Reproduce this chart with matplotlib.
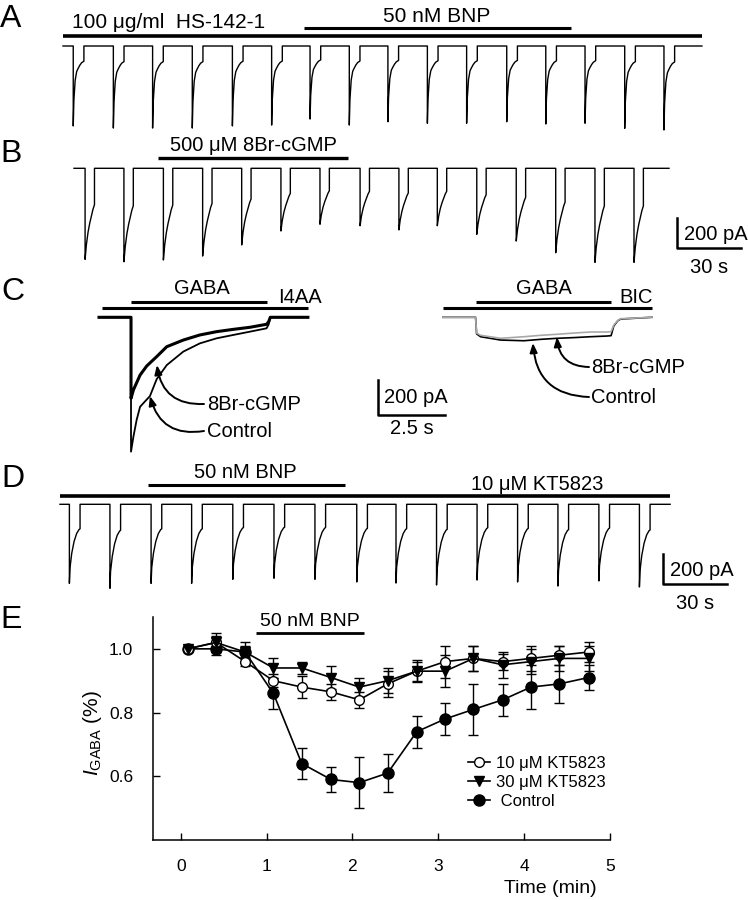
import matplotlib
matplotlib.use('Agg')
import matplotlib.pyplot as plt
from matplotlib.lines import Line2D

plt.rcParams['font.family'] = ['Liberation Sans', 'DejaVu Sans']
plt.rcParams['mathtext.fontset'] = 'custom'
plt.rcParams['mathtext.rm'] = 'Liberation Sans'
plt.rcParams['mathtext.it'] = 'Liberation Sans:italic'

W, H = 748, 900

# ------------------------------------------------------------------ data
# Panel A: GABA sweeps (onset time s, peak amplitude pA)
a_onsets = [4.8, 23.6, 42.0, 60.6, 79.4, 97.8, 115.8, 134.2, 152.3, 170.8,
            189.2, 208.0, 226.3, 244.7, 263.3, 281.7]
a_amps = [533, 547, 547, 547, 533, 527, 487, 527, 505, 515, 515, 505, 520,
          515, 549, 560]
a_end = 299.5
a_hs_bar = [0.0, 299.5]
a_bnp_bar = [113.0, 238.1]
# normalised sweep shape (time after onset s, fraction of peak)
a_prof_t = [0, 0.3, 0.9, 1.6, 2.3, 3.1, 3.9, 5.0]
a_prof_f = [1.0, 0.68, 0.43, 0.32, 0.28, 0.24, 0.21, 0.19]

# Panel B
b_onsets = [5.2, 23.4, 41.9, 60.3, 78.6, 97.0, 115.3, 134.1, 152.3, 170.3,
            188.8, 207.3, 225.8, 244.2, 262.5]
b_amps = [607, 623, 611, 585, 511, 418, 373, 383, 411, 383, 440, 485, 563,
          627, 627]
b_end = 278.9
b_cgmp_bar = [39.4, 128.4]
b_prof_t = [0, 0.6, 1.4, 2.2, 3.0, 3.7, 4.4]
b_prof_f = [1.0, 0.84, 0.70, 0.60, 0.52, 0.45, 0.40]

# Panel C (time s, current pA)
c_ctrl_t = [0, 1.20, 1.20, 1.29, 1.41, 1.54, 1.91, 2.16, 2.54, 3.16, 3.78,
            4.41, 5.03, 5.66, 6.28, 6.36, 6.42, 7.83]
c_ctrl_i = [0, 0, -768, -682, -587, -511, -450, -354, -273, -196, -149,
            -120, -101, -82, -63, -40, 0, 0]
c_br_t = [0, 1.20, 1.20, 1.29, 1.54, 1.79, 2.16, 2.54, 3.16, 3.78, 4.41,
          5.03, 5.66, 6.28, 6.36, 6.42, 7.83]
c_br_i = [0, 0, -463, -415, -330, -278, -225, -168, -130, -101, -82, -69,
          -57, -40, -25, 0, 0]
c_gaba_bar = [1.20, 6.30]
c_i4aa_bar = [0.11, 7.83]
cr_ctrl_t = [0, 1.22, 1.26, 1.41, 2.16, 3.03, 3.66, 4.28, 4.91, 5.53, 6.15,
             6.30, 6.40, 6.55, 6.66, 7.83]
cr_ctrl_i = [0, 0, -95, -111, -130, -134, -126, -120, -116, -111, -107,
             -105, -50, -20, -10, 0]
cr_br_t = [0, 1.22, 1.26, 1.41, 2.16, 3.03, 3.66, 4.28, 4.91, 5.53, 6.15,
           6.30, 6.40, 6.55, 6.66, 7.83]
cr_br_i = [0, 0, -90, -103, -120, -111, -103, -97, -90, -84, -84, -82,
           -45, -18, -8, 0]
cr_gaba_bar = [1.22, 6.30]
cr_bic_bar = [0.0, 7.83]

# Panel D
d_onsets = [4.4, 23.4, 42.7, 61.7, 81.0, 100.3, 119.5, 139.1, 157.5, 176.5,
            195.5, 214.5, 233.4, 252.6, 271.6]
d_amps = [527, 560, 527, 527, 500, 493, 500, 518, 525, 538, 505, 518, 545,
          511, 551]
d_end = 286.0
d_kt_bar = [0.0, 286.0]
d_bnp_bar = [41.3, 133.6]
d_prof_t = [0, 0.3, 1.1, 2.2, 3.4, 4.5, 5.0]
d_prof_f = [1.0, 0.80, 0.62, 0.47, 0.37, 0.32, 0.31]

# Panel E
time_min = [0.08, 0.41, 0.75, 1.08, 1.41, 1.75, 2.08, 2.41, 2.75, 3.08, 3.41,
            3.75, 4.08, 4.41, 4.75]
kt10 = [1.00, 1.02, 0.96, 0.90, 0.88, 0.865, 0.84, 0.89, 0.93, 0.96, 0.97,
        0.96, 0.97, 0.98, 0.99]
kt10_err = [0.0, 0.02, 0.015, 0.02, 0.035, 0.025, 0.025, 0.04, 0.03, 0.05,
            0.04, 0.025, 0.04, 0.03, 0.03]
kt30 = [1.00, 1.02, 0.99, 0.94, 0.94, 0.91, 0.88, 0.90, 0.93, 0.93, 0.97,
        0.95, 0.96, 0.97, 0.97]
kt30_err = [0.0, 0.03, 0.03, 0.03, 0.02, 0.035, 0.03, 0.04, 0.035, 0.05, 0.04,
            0.04, 0.04, 0.04, 0.04]
ctrl = [1.00, 1.00, 0.99, 0.86, 0.64, 0.59, 0.58, 0.61, 0.74, 0.78, 0.81,
        0.84, 0.88, 0.89, 0.91]
ctrl_err = [0.0, 0.02, 0.02, 0.05, 0.05, 0.04, 0.08, 0.06, 0.05, 0.05, 0.08,
            0.05, 0.07, 0.06, 0.04]
e_bnp_bar = [0.88, 2.14]
e_xticks = [0, 1, 2, 3, 4, 5]
e_yticks = [0.6, 0.8, 1.0]
e_yticklabels = ['0.6', '0.8', '1.0']
legend_labels = ['10 \u03bcM KT5823', '30 \u03bcM KT5823', ' Control']

# ------------------------------------------------------------------ figure
fig = plt.figure(figsize=(W / 100, H / 100), dpi=100)

TXT = 14.5
BIG = 23


def ft(x, y, s, **kw):
    kw.setdefault('fontsize', TXT)
    kw.setdefault('va', 'baseline')
    return fig.text(x / W, 1 - y / H, s, **kw)


def trace_axes(x0, y0, pxs, pxpa):
    ax = fig.add_axes([0, 0, 1, 1])
    ax.set_xlim(-x0 / pxs, (W - x0) / pxs)
    ax.set_ylim(-(H - y0) / pxpa, y0 / pxpa)
    ax.axis('off')
    ax.patch.set_visible(False)
    ax._y0, ax._pxpa = y0, pxpa
    return ax


def ypos(ax, ypx):
    return (ax._y0 - ypx) / ax._pxpa


def sweep_train(onsets, amps, pt, pf, end):
    t, i = [0.0], [0.0]
    for on, amp in zip(onsets, amps):
        t.append(on); i.append(0.0)
        for a, f in zip(pt, pf):
            t.append(on + a); i.append(-amp * f)
        t.append(on + pt[-1]); i.append(0.0)
    t.append(end); i.append(0.0)
    return t, i


PXS = 64 / 30.0
PXPA = 30 / 200.0

# ---------------- A
axA = trace_axes(63, 46, PXS, PXPA)
t, i = sweep_train(a_onsets, a_amps, a_prof_t, a_prof_f, a_end)
axA.plot(t, i, color='k', lw=1.0)
axA.plot(a_hs_bar, [ypos(axA, 36)] * 2, color='k', lw=2.6, solid_capstyle='butt')
axA.plot(a_bnp_bar, [ypos(axA, 27.7)] * 2, color='k', lw=2.2, solid_capstyle='butt')
ft(0, 26.7, 'A', fontsize=BIG)
ft(72, 28.3, '100 \u03bcg/ml  HS-142-1', fontsize=15)
ft(437, 21.7, '50 nM BNP', fontsize=15, ha='center')

# ---------------- B
axB = trace_axes(74, 168.3, PXS, PXPA)
t, i = sweep_train(b_onsets, b_amps, b_prof_t, b_prof_f, b_end)
axB.plot(t, i, color='k', lw=1.0)
axB.plot(b_cgmp_bar, [ypos(axB, 157.5)] * 2, color='k', lw=2.4, solid_capstyle='butt')
sb_t = (677 - 74) / PXS
axB.plot([sb_t, sb_t, sb_t + 30], [ypos(axB, 218), ypos(axB, 218) - 200,
                                   ypos(axB, 218) - 200], color='k', lw=1.8)
ft(0, 161.7, 'B', fontsize=BIG)
ft(253, 151, '500 \u03bcM 8Br-cGMP', ha='center')
ft(684, 240, '200 pA')
ft(709, 273, '30 s', ha='center')

# ---------------- C left
PXS_C = 66.7 / 2.5
PXPA_C = 35 / 200.0
axC = trace_axes(99, 317.3, PXS_C, PXPA_C)
axC.plot(c_ctrl_t, c_ctrl_i, color='k', lw=1.3)
axC.plot(c_br_t, c_br_i, color='k', lw=2.2)
axC.plot(c_gaba_bar, [ypos(axC, 302.5)] * 2, color='k', lw=2.2, solid_capstyle='butt')
axC.plot(c_i4aa_bar, [ypos(axC, 308.5)] * 2, color='k', lw=2.2, solid_capstyle='butt')
sc_t = (378 - 99) / PXS_C
axC.plot([sc_t, sc_t, sc_t + 2.5], [ypos(axC, 380), ypos(axC, 380) - 200,
                                    ypos(axC, 380) - 200], color='k', lw=1.8)
arrow = dict(arrowstyle='-|>,head_length=0.55,head_width=0.22', color='k',
             lw=1.4, shrinkA=0, shrinkB=0, connectionstyle='arc3,rad=-0.45')
axC.annotate('', xy=(2.17, -273), xytext=(204, H - 404), textcoords='figure pixels',
             arrowprops=arrow)
axC.annotate('', xy=(1.91, -450), xytext=(204, H - 431), textcoords='figure pixels',
             arrowprops=arrow)
ft(1, 300, 'C', fontsize=BIG)
ft(202, 294, 'GABA', ha='center')
ft(278, 303, 'I4AA')
ft(207, 410, '8Br-cGMP')
ft(207, 437, 'Control')
ft(384, 403, '200 pA')
ft(412, 434, '2.5 s', ha='center')

# ---------------- C right
axC2 = trace_axes(443, 317.3, PXS_C, PXPA_C)
axC2.plot(cr_ctrl_t, cr_ctrl_i, color='k', lw=1.2)
axC2.plot(cr_br_t, cr_br_i, color='#a8a8a8', lw=1.2)
axC2.plot(cr_gaba_bar, [ypos(axC2, 302.5)] * 2, color='k', lw=2.2, solid_capstyle='butt')
axC2.plot(cr_bic_bar, [ypos(axC2, 308.5)] * 2, color='k', lw=2.2, solid_capstyle='butt')
axC2.annotate('', xy=(4.27, -113), xytext=(589, H - 367), textcoords='figure pixels',
              arrowprops=arrow)
axC2.annotate('', xy=(3.37, -147), xytext=(589, H - 397), textcoords='figure pixels',
              arrowprops=arrow)
ft(544, 294, 'GABA', ha='center')
ft(619, 303, 'BIC')
ft(591, 373, '8Br-cGMP')
ft(591, 403, 'Control')

# ---------------- D
axD = trace_axes(60, 504.3, PXS, PXPA)
t, i = sweep_train(d_onsets, d_amps, d_prof_t, d_prof_f, d_end)
axD.plot(t, i, color='k', lw=1.0)
axD.plot(d_kt_bar, [ypos(axD, 496)] * 2, color='k', lw=2.6, solid_capstyle='butt')
axD.plot(d_bnp_bar, [ypos(axD, 485)] * 2, color='k', lw=2.2, solid_capstyle='butt')
sd_t = (663 - 60) / PXS
axD.plot([sd_t, sd_t, sd_t + 30], [ypos(axD, 554), ypos(axD, 554) - 200,
                                   ypos(axD, 554) - 200], color='k', lw=1.8)
ft(1, 487, 'D', fontsize=BIG)
ft(245, 478, '50 nM BNP', ha='center')
ft(537, 490, '10 \u03bcM KT5823', ha='center')
ft(670, 576, '200 pA')
ft(695, 609, '30 s', ha='center')

# ---------------- E
axE = fig.add_axes([152.7 / W, 1 - 840 / H, (610 - 152.7) / W, (840 - 617) / H])
axE.set_xlim(-0.326, 5.0)
axE.set_ylim(0.40, 1.10)
for s in ('top', 'right'):
    axE.spines[s].set_visible(False)
for s in ('left', 'bottom'):
    axE.spines[s].set_linewidth(1.1)
axE.set_xticks(e_xticks)
axE.set_yticks(e_yticks)
axE.set_yticklabels(e_yticklabels)
axE.tick_params(direction='in', length=5, width=1, labelsize=12.5, pad=14)

eb = dict(color='k', lw=1.2, capsize=3.6, elinewidth=1.0, capthick=1.0,
          clip_on=False)
axE.errorbar(time_min, ctrl, yerr=ctrl_err, fmt='-o', ms=8, mfc='k', mec='k', **eb)
axE.errorbar(time_min, kt10, yerr=kt10_err, fmt='-o', ms=7, mfc='white', mec='k', **eb)
axE.errorbar(time_min, kt30, yerr=kt30_err, fmt='-v', ms=7, mfc='k', mec='k', **eb)
axE.plot(e_bnp_bar, [1.049, 1.049], color='k', lw=2.0, clip_on=False,
         solid_capstyle='butt')
axE.text(sum(e_bnp_bar) / 2, 1.072, '50 nM BNP', ha='center', va='baseline',
         fontsize=14)

handles = [Line2D([], [], color='k', lw=1.2, marker='o', ms=7, mfc='white', mec='k'),
           Line2D([], [], color='k', lw=1.2, marker='v', ms=7, mfc='k', mec='k'),
           Line2D([], [], color='k', lw=1.2, marker='o', ms=8, mfc='k', mec='k')]
axE.legend(handles, legend_labels, loc='upper left', bbox_to_anchor=(0.69, 0.378),
           frameon=False, fontsize=12, handlelength=1.3, handletextpad=0.35,
           labelspacing=0.25, borderpad=0, borderaxespad=0)

ft(0, 628, 'E', fontsize=BIG)
fig.text(93 / W, 1 - 733 / H, r'$\mathit{I}_{\mathrm{GABA}}$ (%)', rotation=90,
         ha='center', va='center', fontsize=15)
ft(597, 893, 'Time (min)', ha='right', fontsize=14)

fig.savefig('out.png', dpi=100)
